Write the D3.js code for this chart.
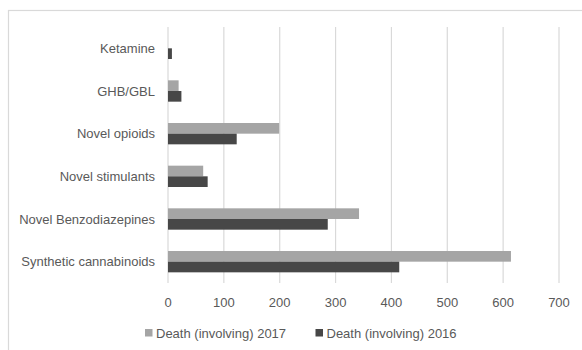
<!DOCTYPE html>
<html>
<head>
<meta charset="utf-8">
<script src="https://cdn.jsdelivr.net/npm/d3@7"></script>
<style>
  html, body { margin: 0; padding: 0; background: #fff; }
  svg { display: block; }
  text { font-family: "Liberation Sans", Arial, sans-serif; fill: #595959; }
</style>
</head>
<body>
<svg id="chart" width="582" height="350"></svg>
<script>
// Substances, listed top to bottom
const categories = [
  "Ketamine",
  "GHB/GBL",
  "Novel opioids",
  "Novel stimulants",
  "Novel Benzodiazepines",
  "Synthetic cannabinoids"
];
const deaths2017 = [0, 19, 199, 63, 342, 614];
const deaths2016 = [7, 24, 123, 71, 286, 414];
const xTicks = [0, 100, 200, 300, 400, 500, 600, 700];
const seriesNames = ["Death (involving) 2017", "Death (involving) 2016"];
const seriesColors = ["#a5a5a5", "#474747"];

const svg = d3.select("#chart");
const W = 582, H = 350;
const plot = { left: 168, right: 559, top: 27, bottom: 283 };

// Chart frame
svg.append("rect")
  .attr("x", 8.5).attr("y", 10.5)
  .attr("width", W + 10).attr("height", H + 10)
  .attr("fill", "none").attr("stroke", "#d9d9d9").attr("stroke-width", 1.2);

const x = d3.scaleLinear().domain([0, 700]).range([plot.left, plot.right]);
const y = d3.scaleBand().domain(categories).range([plot.top, plot.bottom])
  .paddingInner(0.5).paddingOuter(0.25);
const sub = d3.scaleBand().domain([0, 1]).range([0, y.bandwidth()]);

// Vertical gridlines
svg.append("g").selectAll("line").data(xTicks).join("line")
  .attr("x1", d => x(d)).attr("x2", d => x(d))
  .attr("y1", plot.top).attr("y2", plot.bottom)
  .attr("stroke", "#d9d9d9").attr("stroke-width", 1.2);

// Bars
const series = [deaths2017, deaths2016];
series.forEach((vals, si) => {
  svg.append("g").selectAll("rect").data(categories).join("rect")
    .attr("x", x(0))
    .attr("y", c => y(c) + sub(si))
    .attr("width", (c, i) => x(vals[i]) - x(0))
    .attr("height", sub.bandwidth())
    .attr("fill", seriesColors[si]);
});

// Category labels
svg.append("g").selectAll("text").data(categories).join("text")
  .attr("x", plot.left - 13)
  .attr("y", c => y(c) + y.bandwidth() / 2)
  .attr("text-anchor", "end")
  .attr("dominant-baseline", "central")
  .attr("font-size", 13)
  .text(d => d);

// Value axis labels
svg.append("g").selectAll("text").data(xTicks).join("text")
  .attr("x", d => x(d))
  .attr("y", 302)
  .attr("text-anchor", "middle")
  .attr("dominant-baseline", "central")
  .attr("font-size", 13)
  .text(d => d);

// Legend
const legendX = [145, 315.5];
const lg = svg.append("g");
seriesNames.forEach((name, i) => {
  lg.append("rect").attr("x", legendX[i]).attr("y", 329).attr("width", 7.5).attr("height", 7.5)
    .attr("fill", seriesColors[i]);
  lg.append("text").attr("x", legendX[i] + 11).attr("y", 333)
    .attr("dominant-baseline", "central").attr("font-size", 13).text(name);
});
</script>
</body>
</html>
